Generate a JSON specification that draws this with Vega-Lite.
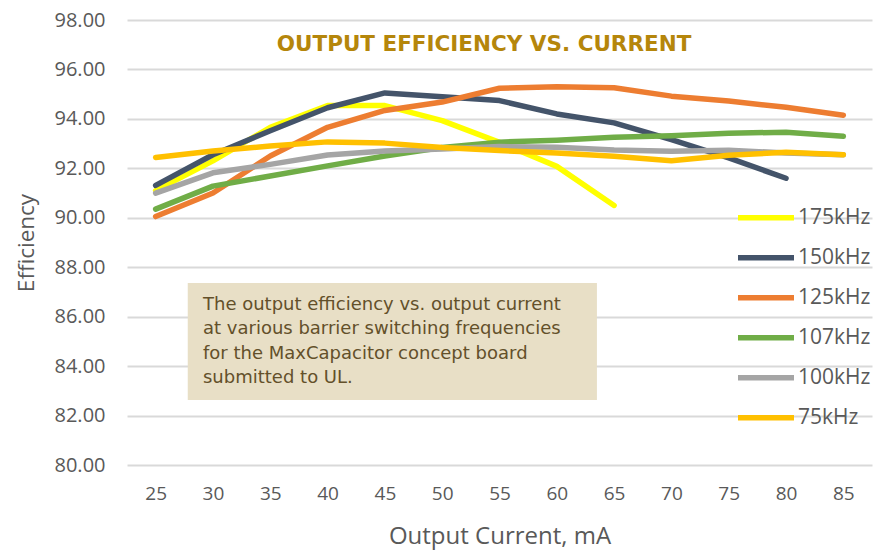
{
  "$schema": "https://vega.github.io/schema/vega-lite/v6.json",
  "width": 745,
  "height": 445,
  "autosize": {"type": "none"},
  "padding": {"left": 127, "top": 20, "right": 12, "bottom": 85},
  "background": "#ffffff",
  "config": {"view": {"stroke": null}},
  "datasets": {
    "eff": [
      {"series": "175kHz", "current": 25, "eff": 91.1},
      {"series": "175kHz", "current": 30, "eff": 92.3},
      {"series": "175kHz", "current": 35, "eff": 93.66},
      {"series": "175kHz", "current": 40, "eff": 94.54},
      {"series": "175kHz", "current": 45, "eff": 94.54},
      {"series": "175kHz", "current": 50, "eff": 93.93},
      {"series": "175kHz", "current": 55, "eff": 93.05},
      {"series": "175kHz", "current": 60, "eff": 92.08},
      {"series": "175kHz", "current": 65, "eff": 90.5},
      {"series": "150kHz", "current": 25, "eff": 91.31},
      {"series": "150kHz", "current": 30, "eff": 92.55},
      {"series": "150kHz", "current": 35, "eff": 93.52},
      {"series": "150kHz", "current": 40, "eff": 94.45},
      {"series": "150kHz", "current": 45, "eff": 95.05},
      {"series": "150kHz", "current": 50, "eff": 94.9},
      {"series": "150kHz", "current": 55, "eff": 94.74},
      {"series": "150kHz", "current": 60, "eff": 94.2},
      {"series": "150kHz", "current": 65, "eff": 93.84},
      {"series": "150kHz", "current": 70, "eff": 93.16},
      {"series": "150kHz", "current": 75, "eff": 92.42},
      {"series": "150kHz", "current": 80, "eff": 91.6},
      {"series": "125kHz", "current": 25, "eff": 90.05},
      {"series": "125kHz", "current": 30, "eff": 91.0},
      {"series": "125kHz", "current": 35, "eff": 92.5},
      {"series": "125kHz", "current": 40, "eff": 93.66},
      {"series": "125kHz", "current": 45, "eff": 94.34},
      {"series": "125kHz", "current": 50, "eff": 94.68},
      {"series": "125kHz", "current": 55, "eff": 95.24},
      {"series": "125kHz", "current": 60, "eff": 95.3},
      {"series": "125kHz", "current": 65, "eff": 95.26},
      {"series": "125kHz", "current": 70, "eff": 94.92},
      {"series": "125kHz", "current": 75, "eff": 94.72},
      {"series": "125kHz", "current": 80, "eff": 94.47},
      {"series": "125kHz", "current": 85, "eff": 94.15},
      {"series": "107kHz", "current": 25, "eff": 90.35},
      {"series": "107kHz", "current": 30, "eff": 91.28},
      {"series": "107kHz", "current": 35, "eff": 91.69},
      {"series": "107kHz", "current": 40, "eff": 92.1},
      {"series": "107kHz", "current": 45, "eff": 92.5},
      {"series": "107kHz", "current": 50, "eff": 92.84},
      {"series": "107kHz", "current": 55, "eff": 93.06},
      {"series": "107kHz", "current": 60, "eff": 93.14},
      {"series": "107kHz", "current": 65, "eff": 93.26},
      {"series": "107kHz", "current": 70, "eff": 93.32},
      {"series": "107kHz", "current": 75, "eff": 93.42},
      {"series": "107kHz", "current": 80, "eff": 93.46},
      {"series": "107kHz", "current": 85, "eff": 93.3},
      {"series": "100kHz", "current": 25, "eff": 91.0},
      {"series": "100kHz", "current": 30, "eff": 91.82},
      {"series": "100kHz", "current": 35, "eff": 92.16},
      {"series": "100kHz", "current": 40, "eff": 92.54},
      {"series": "100kHz", "current": 45, "eff": 92.7},
      {"series": "100kHz", "current": 50, "eff": 92.78},
      {"series": "100kHz", "current": 55, "eff": 92.88},
      {"series": "100kHz", "current": 60, "eff": 92.85},
      {"series": "100kHz", "current": 65, "eff": 92.74},
      {"series": "100kHz", "current": 70, "eff": 92.69},
      {"series": "100kHz", "current": 75, "eff": 92.73},
      {"series": "100kHz", "current": 80, "eff": 92.62},
      {"series": "100kHz", "current": 85, "eff": 92.55},
      {"series": "75kHz", "current": 25, "eff": 92.44},
      {"series": "75kHz", "current": 30, "eff": 92.7},
      {"series": "75kHz", "current": 35, "eff": 92.9},
      {"series": "75kHz", "current": 40, "eff": 93.07},
      {"series": "75kHz", "current": 45, "eff": 93.02},
      {"series": "75kHz", "current": 50, "eff": 92.84},
      {"series": "75kHz", "current": 55, "eff": 92.72},
      {"series": "75kHz", "current": 60, "eff": 92.62},
      {"series": "75kHz", "current": 65, "eff": 92.49},
      {"series": "75kHz", "current": 70, "eff": 92.31},
      {"series": "75kHz", "current": 75, "eff": 92.53},
      {"series": "75kHz", "current": 80, "eff": 92.65},
      {"series": "75kHz", "current": 85, "eff": 92.55}
    ]
  },
  "layer": [
    {
      "data": {"name": "eff"},
      "mark": {"type": "line", "strokeWidth": 5.5, "strokeCap": "round", "strokeJoin": "round"},
      "encoding": {
        "x": {
          "field": "current", "type": "quantitative",
          "scale": {"domain": [22.5, 87.5], "nice": false, "zero": false},
          "axis": {
            "values": [25, 30, 35, 40, 45, 50, 55, 60, 65, 70, 75, 80, 85],
            "grid": false, "domain": false, "ticks": false,
            "labelFont": "Open Sans", "labelFontSize": 19, "labelColor": "#595959",
            "labelPadding": 19,
            "title": "Output Current, mA", "titleFont": "Open Sans", "titleFontSize": 24,
            "titleFontWeight": "normal", "titleColor": "#595959", "titlePadding": 21
          }
        },
        "y": {
          "field": "eff", "type": "quantitative",
          "scale": {"domain": [80, 98], "nice": false, "zero": false},
          "axis": {
            "values": [80, 82, 84, 86, 88, 90, 92, 94, 96, 98],
            "format": ".2f",
            "grid": true, "gridColor": "#d9d9d9", "gridWidth": 2,
            "domain": false, "ticks": false,
            "labelFont": "Open Sans", "labelFontSize": 20, "labelColor": "#595959",
            "labelPadding": 22,
            "title": "Efficiency", "titleFont": "Open Sans", "titleFontSize": 22.5,
            "titleFontWeight": "normal", "titleColor": "#595959", "titlePadding": 16
          }
        },
        "color": {
          "field": "series", "type": "nominal",
          "scale": {
            "domain": ["175kHz", "150kHz", "125kHz", "107kHz", "100kHz", "75kHz"],
            "range": ["#FFFF00", "#44546A", "#ED7D31", "#70AD47", "#A5A5A5", "#FFC000"]
          },
          "legend": {
            "title": null, "orient": "none", "legendX": 608, "legendY": 178,
            "symbolType": "stroke", "symbolSize": 3136, "symbolStrokeWidth": 5.5,
            "labelFont": "Open Sans", "labelFontSize": 21, "labelColor": "#595959",
            "labelOffset": 1, "rowPadding": 0, "clipHeight": 39.4
          }
        }
      }
    },
    {
      "data": {"values": [{}]},
      "mark": {"type": "rect", "fill": "#e8dfc6"},
      "encoding": {
        "x": {"datum": 27.8, "type": "quantitative"},
        "x2": {"datum": 63.5},
        "y": {"datum": 87.36, "type": "quantitative"},
        "y2": {"datum": 82.63}
      }
    },
    {
      "data": {"values": [{}]},
      "mark": {
        "type": "text", "align": "left", "baseline": "top",
        "font": "DejaVu Sans", "fontSize": 18, "color": "#63502a", "lineHeight": 24.5,
        "text": ["The output efficiency vs. output current", "at various barrier switching frequencies", "for the MaxCapacitor concept board", "submitted to UL."]
      },
      "encoding": {
        "x": {"datum": 29.13, "type": "quantitative"},
        "y": {"datum": 86.85, "type": "quantitative"}
      }
    },
    {
      "data": {"values": [{}]},
      "mark": {
        "type": "text", "align": "center", "baseline": "middle",
        "font": "DejaVu Sans", "fontSize": 21.5, "fontWeight": "bold", "color": "#B5860B",
        "text": "OUTPUT EFFICIENCY VS. CURRENT"
      },
      "encoding": {
        "x": {"datum": 53.65, "type": "quantitative"},
        "y": {"datum": 96.99, "type": "quantitative"}
      }
    }
  ]
}
